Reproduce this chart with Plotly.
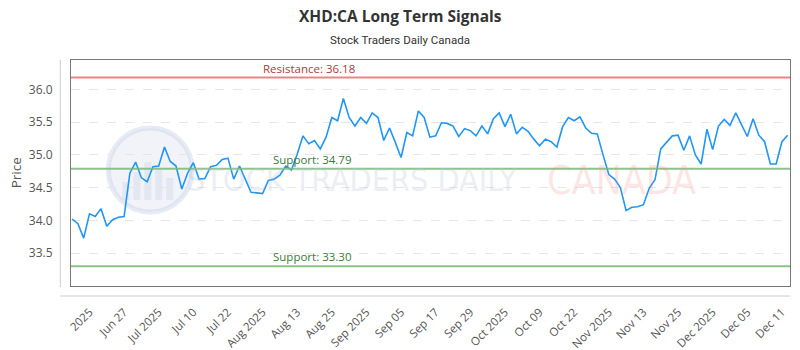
import plotly.graph_objects as go

# ---------------- data ----------------
prices = [
    34.02, 33.95, 33.73, 34.10, 34.06, 34.18, 33.91, 34.01, 34.05, 34.06,
    34.72, 34.89, 34.65, 34.59, 34.82, 34.83, 35.12, 34.90, 34.83, 34.48,
    34.72, 34.88, 34.63, 34.64, 34.82, 34.84, 34.93, 34.95, 34.63, 34.83,
    34.63, 34.43, 34.42, 34.41, 34.61, 34.63, 34.69, 34.83, 34.77, 35.01,
    35.29, 35.17, 35.22, 35.09, 35.27, 35.57, 35.52, 35.86, 35.57, 35.44,
    35.57, 35.48, 35.64, 35.57, 35.22, 35.41, 35.19, 34.96, 35.34, 35.29,
    35.67, 35.57, 35.27, 35.29, 35.49, 35.48, 35.44, 35.28, 35.40, 35.37,
    35.29, 35.44, 35.32, 35.55, 35.64, 35.43, 35.62, 35.32, 35.42, 35.36,
    35.24, 35.14, 35.24, 35.20, 35.12, 35.43, 35.57, 35.52, 35.58, 35.41,
    35.33, 35.32, 35.00, 34.70, 34.63, 34.50, 34.15, 34.20, 34.21, 34.24,
    34.49, 34.62, 35.09, 35.19, 35.29, 35.30, 35.07, 35.29, 35.00, 34.86,
    35.39, 35.08, 35.44, 35.54, 35.45, 35.64, 35.46, 35.28, 35.55, 35.30,
    35.20, 34.86, 34.86, 35.20, 35.30,
]
x_index = list(range(len(prices)))

tick_labels = ["2025", "Jun 27", "Jul 2025", "Jul 10", "Jul 22", "Aug 2025",
               "Aug 13", "Aug 25", "Sep 2025", "Sep 05", "Sep 17", "Sep 29",
               "Oct 2025", "Oct 09", "Oct 22", "Nov 2025", "Nov 13", "Nov 25",
               "Dec 2025", "Dec 05", "Dec 11"]
tick_step = 6
last_tick = len(prices) - 2
tick_positions = [last_tick - tick_step * (len(tick_labels) - 1 - i)
                  for i in range(len(tick_labels))]

resistance = 36.18
supports = [34.79, 33.30]
label_index = 41

y_ticks = [33.5, 34.0, 34.5, 35.0, 35.5, 36.0]

# ---------------- geometry helpers (pixel -> paper) ----------------
PL, PR, PT, PB = 70.7, 790.0, 60.0, 286.0


def px(x):
    return (x - PL) / (PR - PL)


def py(y):
    return (PB - y) / (PB - PT)


# ---------------- figure ----------------
fig = go.Figure()
fig.add_trace(go.Scatter(
    x=x_index, y=prices, mode="lines",
    line=dict(color="#2196f3", width=1.6),
    hoverinfo="skip", showlegend=False,
))

shapes = []
annotations = []

# level lines
shapes.append(dict(type="line", xref="paper", yref="y", x0=0, x1=1,
                   y0=resistance, y1=resistance,
                   line=dict(color="rgba(232,110,110,0.85)", width=2)))
annotations.append(dict(x=label_index, y=resistance, xref="x", yref="y",
                        text=f"Resistance: {resistance:.2f}", showarrow=False,
                        yanchor="bottom",
                        font=dict(family="Open Sans", size=11.5, color="#b03a3a")))
for s in supports:
    shapes.append(dict(type="line", xref="paper", yref="y", x0=0, x1=1,
                       y0=s, y1=s,
                       line=dict(color="rgba(120,185,120,0.85)", width=2)))
    annotations.append(dict(x=label_index + 0.5, y=s, xref="x", yref="y",
                            text=f"Support: {s:.2f}", showarrow=False,
                            yanchor="bottom",
                            font=dict(family="Open Sans", size=11.5, color="#3a7a3a")))

# offset light axis lines
shapes.append(dict(type="line", xref="paper", yref="paper",
                   x0=px(60), x1=px(60), y0=py(287), y1=1,
                   line=dict(color="#cccccc", width=1)))
shapes.append(dict(type="line", xref="paper", yref="paper",
                   x0=px(60), x1=1, y0=py(296), y1=py(296),
                   line=dict(color="#cccccc", width=1)))

# watermark logo
shapes.append(dict(type="circle", xref="paper", yref="paper",
                   x0=px(108), x1=px(192), y0=py(212), y1=py(128),
                   fillcolor="rgba(215,222,238,0.35)",
                   line=dict(color="rgba(200,210,230,0.45)", width=5),
                   layer="below"))
for bx, bh in [(122, 18), (133, 28), (144, 38), (155, 30), (166, 22)]:
    shapes.append(dict(type="rect", xref="paper", yref="paper",
                       x0=px(bx), x1=px(bx + 7),
                       y0=py(200), y1=py(200 - bh),
                       fillcolor="rgba(200,210,230,0.35)", line=dict(width=0),
                       layer="below"))
annotations.append(dict(x=px(185), y=py(180),
                        xref="paper", yref="paper", xanchor="left", yanchor="middle",
                        text="STOCK TRADERS DAILY", showarrow=False,
                        font=dict(family="DejaVu Sans Condensed", size=32,
                                  color="rgba(185,195,215,0.30)")))
annotations.append(dict(x=px(545), y=py(180),
                        xref="paper", yref="paper", xanchor="left", yanchor="middle",
                        text="CANADA", showarrow=False,
                        font=dict(family="DejaVu Sans Condensed", size=39,
                                  color="rgba(245,140,140,0.22)")))

# titles
annotations.append(dict(x=px(400), xref="paper", y=py(16), yref="paper",
                        text="<b>XHD:CA Long Term Signals</b>", showarrow=False,
                        xanchor="center", yanchor="middle",
                        font=dict(family="Open Sans", size=15.5, color="#333333")))
annotations.append(dict(x=px(400), xref="paper", y=py(40), yref="paper",
                        text="Stock Traders Daily Canada", showarrow=False,
                        xanchor="center", yanchor="middle",
                        font=dict(family="Roboto", size=11.5, color="#333333")))
annotations.append(dict(x=px(16), xref="paper", y=0.5, yref="paper",
                        text="Price", textangle=-90, showarrow=False,
                        xanchor="center", yanchor="middle",
                        font=dict(family="Open Sans", size=13.5, color="#555555")))

fig.update_layout(
    width=800, height=350,
    margin=dict(l=71, r=10, t=60, b=64, autoexpand=False),
    paper_bgcolor="white", plot_bgcolor="white",
    shapes=shapes, annotations=annotations,
    showlegend=False,
    xaxis=dict(
        range=[-0.2, 124.4], automargin=False,
        tickvals=tick_positions, ticktext=tick_labels,
        tickangle=-45, showgrid=False, zeroline=False,
        showline=True, mirror=True, linecolor="#777777", linewidth=1,
        ticks="", ticklabelstandoff=14,
        tickfont=dict(family="Open Sans", size=11.5, color="#555555"),
    ),
    yaxis=dict(
        range=[33.0, 36.447], automargin=False,
        tickvals=y_ticks, ticktext=[f"{v:.1f}" for v in y_ticks],
        showgrid=True, gridcolor="#e6e6e6", griddash="dash", gridwidth=1,
        zeroline=False,
        showline=True, mirror=True, linecolor="#777777", linewidth=1,
        ticks="", ticklabelstandoff=15,
        tickfont=dict(family="Open Sans", size=12, color="#555555"),
    ),
)

fig.write_html("out.html")
